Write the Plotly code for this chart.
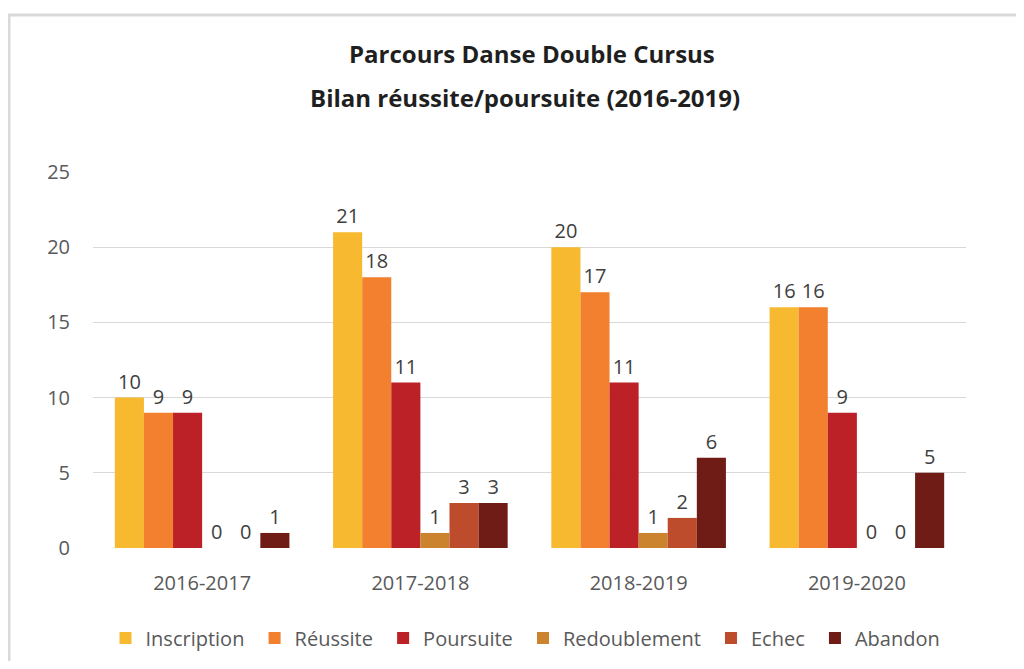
import plotly.graph_objects as go

categories = ["2016-2017", "2017-2018", "2018-2019", "2019-2020"]
series_names = ["Inscription", "Réussite", "Poursuite", "Redoublement", "Echec", "Abandon"]
inscription = [10, 21, 20, 16]
reussite = [9, 18, 17, 16]
poursuite = [9, 11, 11, 9]
redoublement = [0, 1, 1, 0]
echec = [0, 3, 2, 0]
abandon = [1, 3, 6, 5]
y_ticks = [0, 5, 10, 15, 20, 25]

colors = ["#F6B930", "#F2802E", "#BC2127", "#CB832E", "#BC4C2C", "#6E1C15"]
values = [inscription, reussite, poursuite, redoublement, echec, abandon]

OFF = 8  # page body margin
W, H = 1008, 653
L, T = 93 - OFF, 172 - OFF
R = W - (966 - OFF)
B = H - (548 - OFF)
pw, ph = W - L - R, H - T - B

def px(x):
    return (x - OFF - L) / pw

def py(y):
    return (H - B - (y - OFF)) / ph

FONT = "Open Sans"
fig = go.Figure()
for name, vals, col in zip(series_names, values, colors):
    fig.add_trace(go.Bar(
        x=categories, y=vals, name=name + "\u00a0",
        marker=dict(color=col, line=dict(width=0)),
        text=[str(v) for v in vals], textposition="outside",
        textfont=dict(family=FONT, size=20, color="#404040"),
        cliponaxis=False,
    ))

fig.update_layout(
    width=W, height=H,
    margin=dict(l=L, r=R, t=T, b=B, autoexpand=False),
    paper_bgcolor="white", plot_bgcolor="white",
    barmode="group", bargap=0.2, bargroupgap=0,
    font=dict(family=FONT, color="#595959", size=20),
    xaxis=dict(showgrid=False, showline=False, ticks="",
               tickfont=dict(family=FONT, size=20, color="#595959"),
               ticklabelstandoff=21),
    yaxis=dict(range=[0, 25], tickvals=y_ticks, showgrid=True,
               gridcolor="#D9D9D9", gridwidth=1, zeroline=False,
               showline=False, ticks="",
               tickfont=dict(family=FONT, size=20, color="#595959"),
               ticklabelstandoff=22),
    legend=dict(orientation="h", x=px(528), xanchor="center", y=py(638),
                yanchor="middle", font=dict(family=FONT, size=20, color="#595959"),
                itemwidth=30, tracegroupgap=0),
    showlegend=True,
)

fig.add_annotation(text="<b>Parcours Danse Double Cursus</b>", xref="paper", yref="paper",
                   x=px(532), y=py(53), showarrow=False, xanchor="center", yanchor="middle",
                   font=dict(family=FONT, size=24, color="#1F1F1F"))
fig.add_annotation(text="<b>Bilan réussite/poursuite (2016-2019)</b>", xref="paper", yref="paper",
                   x=px(525), y=py(98), showarrow=False, xanchor="center", yanchor="middle",
                   font=dict(family=FONT, size=24, color="#1F1F1F"))

fig.add_shape(type="rect", xref="paper", yref="paper",
              x0=px(9), x1=px(1100), y0=py(15), y1=py(760),
              line=dict(color="#D9D9D9", width=3), fillcolor="rgba(0,0,0,0)", layer="below")

fig.write_html("out.html")
